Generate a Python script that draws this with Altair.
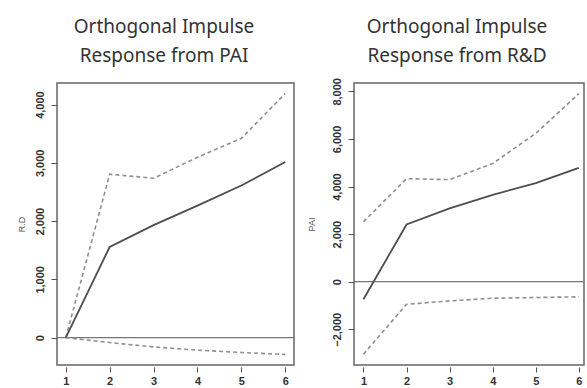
import altair as alt
import pandas as pd

# Impulse response horizon (periods)
steps = [1, 2, 3, 4, 5, 6]

# Response of R.D to an orthogonal shock in PAI
pai_title = ["Orthogonal Impulse", "Response from PAI"]
pai_resp = [0, 1555, 1930, 2265, 2610, 3015]
pai_upper = [0, 2805, 2735, 3095, 3420, 4190]
pai_lower = [0, -85, -160, -215, -255, -290]

# Response of PAI to an orthogonal shock in R&D
rd_title = ["Orthogonal Impulse", "Response from R&D"]
rd_resp = [-735, 2405, 3085, 3650, 4145, 4785]
rd_upper = [2520, 4330, 4290, 4965, 6230, 7900]
rd_lower = [-3045, -950, -805, -695, -665, -635]

LINE_COLOR = "#4d4d4d"
BAND_COLOR = "#8f8f8f"
TICK_FONT = "Liberation Sans"


def panel(resp, upper, lower, title, ytitle, ydomain, yvalues, width, xdomain,
          title_x, ytitle_pad):
    df_resp = pd.DataFrame({"step": steps, "value": resp})
    df_band = pd.concat([
        pd.DataFrame({"step": steps, "value": upper, "bound": "upper"}),
        pd.DataFrame({"step": steps, "value": lower, "bound": "lower"}),
    ])

    x = alt.X(
        "step:Q",
        scale=alt.Scale(domain=xdomain, nice=False, zero=False),
        axis=alt.Axis(
            values=steps, format="d", title=None, grid=False, domain=False,
            offset=2, tickSize=5, tickColor="#555", tickWidth=1,
            labelFont=TICK_FONT, labelFontSize=11, labelFontWeight="bold",
            labelColor="#333", labelPadding=3,
        ),
    )
    y_axis = alt.Axis(
        values=yvalues, format=",d", title=ytitle, grid=False, domain=False,
        tickSize=6, tickColor="#555", tickWidth=1,
        labelAngle=270, labelAlign="center", labelBaseline="bottom",
        labelFont=TICK_FONT, labelFontSize=11, labelFontWeight="bold",
        labelColor="#333", labelPadding=6, labelBound=False, labelOverlap=False,
        titleFont=TICK_FONT, titleFontSize=9, titleFontWeight="normal",
        titleColor="#555", titlePadding=ytitle_pad,
    )
    yscale = alt.Scale(domain=ydomain, nice=False, zero=False)

    band = alt.Chart(df_band).mark_line(
        color=BAND_COLOR, strokeWidth=1.6, strokeDash=[4, 3]
    ).encode(
        x=x,
        y=alt.Y("value:Q", scale=yscale, axis=y_axis),
        detail="bound:N",
    )
    line = alt.Chart(df_resp).mark_line(
        color=LINE_COLOR, strokeWidth=1.8
    ).encode(x=x, y=alt.Y("value:Q", scale=yscale, axis=y_axis))
    zero = alt.Chart(pd.DataFrame({"value": [0]})).mark_rule(
        color="#777", strokeWidth=1.2
    ).encode(y=alt.Y("value:Q", scale=yscale, axis=y_axis))

    # two-line heading above the plot frame
    heading = [
        alt.Chart(pd.DataFrame({"t": [text]})).mark_text(
            font="Noto Sans", fontSize=19, color="#333",
            align="center", baseline="alphabetic",
        ).encode(text="t:N", x=alt.value(title_x), y=alt.value(y_pos))
        for text, y_pos in zip(title, [-50, -21])
    ]

    return alt.layer(zero, band, line, *heading).properties(width=width, height=282)


left = panel(
    pai_resp, pai_upper, pai_lower, pai_title,
    ytitle="R.D",
    ydomain=[-470, 4370],
    yvalues=[0, 1000, 2000, 3000, 4000],
    width=237,
    xdomain=[0.8, 6.2],
    title_x=107,
    ytitle_pad=8,
)
right = panel(
    rd_resp, rd_upper, rd_lower, rd_title,
    ytitle="PAI",
    ydomain=[-3500, 8350],
    yvalues=[-2000, 0, 2000, 4000, 6000, 8000],
    width=230,
    xdomain=[0.78, 6.12],
    title_x=103,
    ytitle_pad=15,
)

chart = alt.hconcat(left, right, spacing=60, bounds="flush").configure_view(
    stroke="#666", strokeWidth=1.5
).properties(
    padding={"left": 16, "top": 17, "right": 0, "bottom": 0},
    background="white",
)

chart.save("out.html", embed_options={"renderer": "svg", "actions": False})
